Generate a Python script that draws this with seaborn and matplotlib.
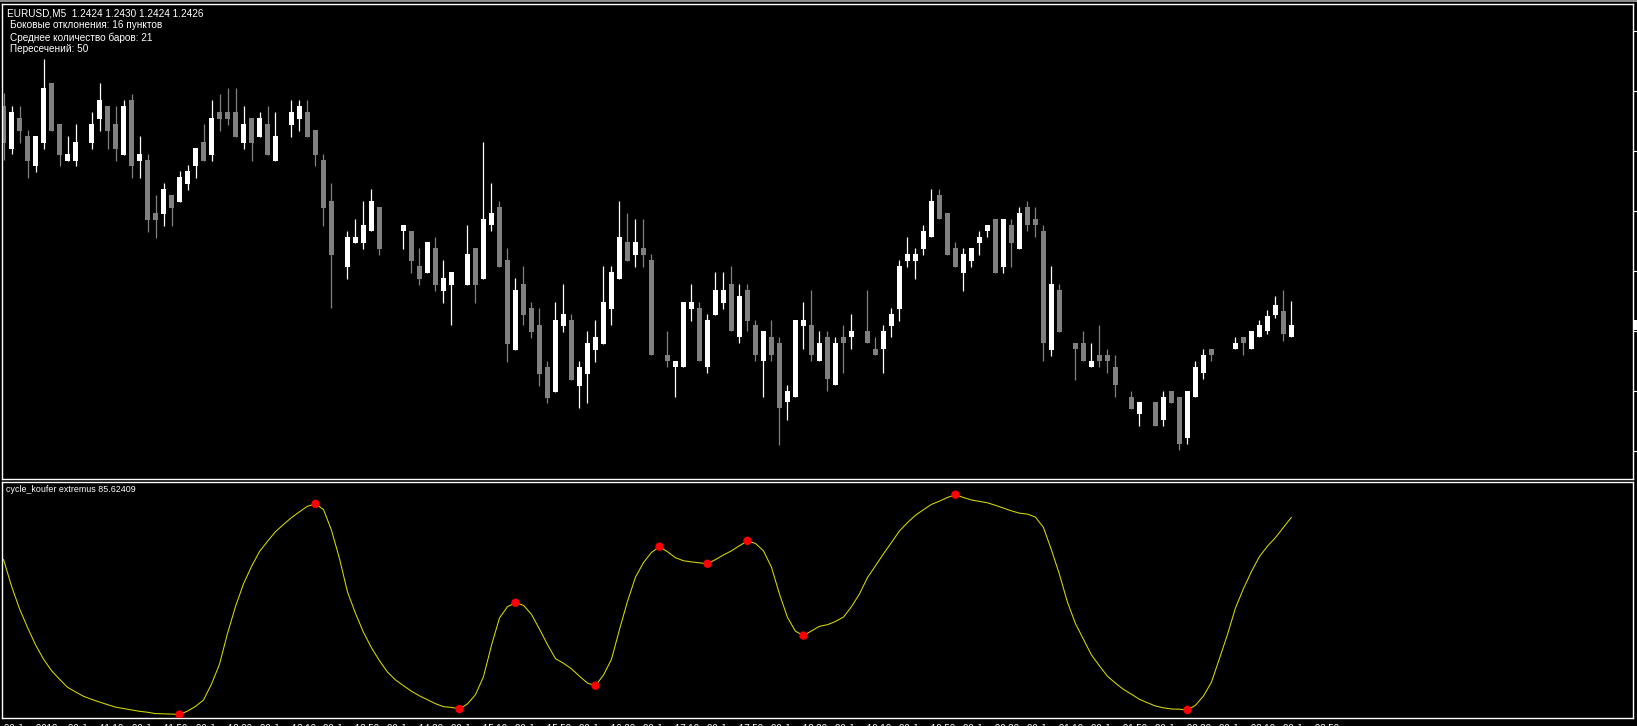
import matplotlib
matplotlib.use('Agg')
import matplotlib.pyplot as plt
import matplotlib.transforms as mtransforms
from matplotlib.patches import Rectangle
import numpy as np
import seaborn as sns

nan = np.nan

# EURUSD M5 bars (nan = doji bars that the terminal draws in black)
opens = [
    1.24625, 1.24554, 1.24605, 1.24575, 1.24525, 1.24564, 1.24663, 1.24595, 1.24534, 1.24534,
    nan, 1.24564, 1.24604, 1.24625, 1.24595, 1.24544, 1.24635, 1.24534, 1.24535, 1.24446,
    1.24445, 1.24477, 1.24465, 1.24495, 1.24525, 1.24565, 1.24544, 1.24615, 1.24615, 1.24615,
    1.24564, 1.24605, 1.24574, 1.24595, 1.24534, nan, 1.24594, 1.24604, 1.24615, 1.24585,
    1.24535, 1.24467, nan, 1.24357, 1.24397, 1.24397, 1.24416, 1.24456, nan, nan,
    1.24416, 1.24417, 1.24358, 1.24347, 1.24388, 1.24317, 1.24327, nan, 1.24327, 1.24388,
    1.24337, 1.24426, 1.24456, 1.24368, 1.24218, 1.24328, 1.24288, 1.24259, 1.24189, 1.24148,
    1.24258, 1.24268, 1.24158, 1.24178, 1.24218, 1.24228, 1.24287, 1.24337, 1.24398, 1.24377,
    1.24388, 1.24368, nan, 1.24210, 1.24189, 1.24189, 1.24287, 1.24288, 1.24189, 1.24277,
    1.24297, 1.24328, 1.24239, 1.24318, 1.24260, 1.24199, 1.24240, 1.24230, 1.24131, 1.24139,
    1.24258, 1.24260, 1.24199, 1.24240, 1.24159, 1.24240, 1.24239, nan, 1.24250, 1.24220,
    1.24219, 1.24258, 1.24287, 1.24367, 1.24367, 1.24387, 1.24406, 1.24477, 1.24447, 1.24388,
    1.24347, 1.24367, 1.24397, 1.24416, 1.24437, 1.24357, 1.24427, 1.24387, 1.24457, 1.24437,
    1.24417, 1.24218, 1.24318, nan, 1.24230, 1.24230, 1.24189, 1.24210, 1.24210, 1.24190,
    nan, 1.24140, 1.24111, nan, 1.24132, 1.24101, 1.24150, 1.24140, 1.24071, 1.24139,
    1.24179, 1.24220, nan, nan, 1.24219, 1.24240, 1.24219, 1.24239, 1.24250, 1.24277,
    1.24283, 1.24240,
]
highs = [
    1.24646, 1.24625, 1.24625, 1.24585, 1.24575, 1.24703, 1.24663, 1.24595, 1.24575, 1.24595,
    nan, 1.24615, 1.24663, 1.24625, 1.24625, 1.24635, 1.24645, 1.24575, 1.24545, 1.24477,
    1.24497, 1.24477, 1.24517, 1.24527, 1.24555, 1.24595, 1.24635, 1.24645, 1.24655, 1.24655,
    1.24625, 1.24605, 1.24615, 1.24625, 1.24615, nan, 1.24635, 1.24635, 1.24635, 1.24585,
    1.24545, 1.24496, nan, 1.24417, 1.24437, 1.24467, 1.24487, 1.24456, nan, nan,
    1.24427, 1.24417, 1.24388, 1.24398, 1.24407, 1.24368, 1.24348, nan, 1.24427, 1.24388,
    1.24565, 1.24497, 1.24467, 1.24388, 1.24338, 1.24358, 1.24298, 1.24288, 1.24199, 1.24298,
    1.24328, 1.24278, 1.24199, 1.24249, 1.24268, 1.24358, 1.24358, 1.24467, 1.24447, 1.24437,
    1.24437, 1.24378, nan, 1.24250, 1.24200, 1.24298, 1.24328, 1.24298, 1.24278, 1.24348,
    1.24348, 1.24358, 1.24328, 1.24328, 1.24268, 1.24250, 1.24268, 1.24240, 1.24160, 1.24268,
    1.24298, 1.24318, 1.24250, 1.24250, 1.24240, 1.24260, 1.24278, nan, 1.24318, 1.24240,
    1.24260, 1.24288, 1.24368, 1.24407, 1.24388, 1.24427, 1.24487, 1.24487, 1.24447, 1.24398,
    1.24388, 1.24388, 1.24417, 1.24427, 1.24437, 1.24437, 1.24437, 1.24457, 1.24467, 1.24457,
    1.24427, 1.24358, 1.24328, nan, 1.24230, 1.24250, 1.24230, 1.24260, 1.24220, 1.24210,
    nan, 1.24150, 1.24132, nan, 1.24132, 1.24150, 1.24150, 1.24140, 1.24150, 1.24200,
    1.24220, 1.24220, nan, nan, 1.24240, 1.24240, 1.24250, 1.24269, 1.24285, 1.24308,
    1.24318, 1.24300,
]
lows = [
    1.24535, 1.24545, 1.24564, 1.24505, 1.24515, 1.24554, 1.24584, 1.24525, 1.24534, 1.24525,
    nan, 1.24554, 1.24584, 1.24554, 1.24534, 1.24544, 1.24505, 1.24505, 1.24415, 1.24405,
    1.24425, 1.24425, 1.24465, 1.24485, 1.24505, 1.24534, 1.24534, 1.24584, 1.24594, 1.24574,
    1.24554, 1.24534, 1.24574, 1.24544, 1.24534, nan, 1.24574, 1.24584, 1.24574, 1.24525,
    1.24425, 1.24288, nan, 1.24337, 1.24397, 1.24387, 1.24416, 1.24377, nan, nan,
    1.24387, 1.24347, 1.24327, 1.24347, 1.24317, 1.24297, 1.24259, nan, 1.24327, 1.24297,
    1.24337, 1.24416, 1.24357, 1.24198, 1.24218, 1.24259, 1.24238, 1.24158, 1.24129, 1.24148,
    1.24248, 1.24168, 1.24121, 1.24129, 1.24198, 1.24228, 1.24259, 1.24337, 1.24367, 1.24357,
    1.24357, 1.24209, nan, 1.24189, 1.24139, 1.24189, 1.24267, 1.24199, 1.24179, 1.24277,
    1.24287, 1.24249, 1.24229, 1.24249, 1.24199, 1.24139, 1.24199, 1.24060, 1.24101, 1.24139,
    1.24219, 1.24199, 1.24199, 1.24149, 1.24159, 1.24179, 1.24219, nan, 1.24229, 1.24209,
    1.24179, 1.24239, 1.24267, 1.24357, 1.24337, 1.24377, 1.24406, 1.24436, 1.24377, 1.24357,
    1.24317, 1.24357, 1.24377, 1.24406, 1.24347, 1.24347, 1.24357, 1.24387, 1.24416, 1.24406,
    1.24199, 1.24208, 1.24248, nan, 1.24168, 1.24199, 1.24189, 1.24189, 1.24179, 1.24139,
    nan, 1.24120, 1.24091, nan, 1.24091, 1.24091, 1.24130, 1.24051, 1.24061, 1.24139,
    1.24169, 1.24199, nan, nan, 1.24219, 1.24209, 1.24219, 1.24239, 1.24245, 1.24272,
    1.24233, 1.24240,
]
closes = [
    1.24564, 1.24615, 1.24584, 1.24534, 1.24575, 1.24655, 1.24584, 1.24544, 1.24545, 1.24565,
    nan, 1.24595, 1.24635, 1.24584, 1.24554, 1.24625, 1.24525, 1.24545, 1.24435, 1.24435,
    1.24487, 1.24455, 1.24507, 1.24517, 1.24555, 1.24534, 1.24605, 1.24604, 1.24604, 1.24574,
    1.24595, 1.24564, 1.24605, 1.24544, 1.24575, nan, 1.24615, 1.24625, 1.24574, 1.24544,
    1.24455, 1.24377, nan, 1.24407, 1.24407, 1.24427, 1.24467, 1.24387, nan, nan,
    1.24427, 1.24367, 1.24337, 1.24398, 1.24327, 1.24338, 1.24348, nan, 1.24378, 1.24327,
    1.24437, 1.24447, 1.24357, 1.24228, 1.24318, 1.24277, 1.24248, 1.24178, 1.24138, 1.24268,
    1.24278, 1.24168, 1.24189, 1.24229, 1.24239, 1.24298, 1.24348, 1.24407, 1.24367, 1.24398,
    1.24377, 1.24209, nan, 1.24199, 1.24200, 1.24298, 1.24298, 1.24199, 1.24268, 1.24318,
    1.24318, 1.24249, 1.24308, 1.24267, 1.24209, 1.24250, 1.24209, 1.24121, 1.24150, 1.24268,
    1.24268, 1.24209, 1.24230, 1.24169, 1.24230, 1.24229, 1.24250, nan, 1.24229, 1.24209,
    1.24250, 1.24278, 1.24358, 1.24378, 1.24378, 1.24417, 1.24467, 1.24436, 1.24377, 1.24357,
    1.24378, 1.24388, 1.24407, 1.24427, 1.24347, 1.24437, 1.24397, 1.24447, 1.24426, 1.24426,
    1.24229, 1.24328, 1.24248, nan, 1.24219, 1.24199, 1.24200, 1.24199, 1.24199, 1.24159,
    nan, 1.24120, 1.24132, nan, 1.24091, 1.24140, 1.24130, 1.24061, 1.24150, 1.24190,
    1.24210, 1.24209, nan, nan, 1.24230, 1.24229, 1.24250, 1.24260, 1.24275, 1.24293,
    1.24245, 1.24260,
]

# cycle_koufer extremus indicator, one value per bar
cycle = [
    67.4, 55.8, 46.0, 37.9, 30.4, 24.2, 19.2, 15.5, 12.0, 10.0,
    8.1, 6.8, 5.6, 4.5, 3.4, 2.8, 2.2, 1.6, 1.2, 0.6,
    0.5, 0.4, 0.2, 1.7, 3.7, 6.5, 13.4, 22.0, 35.3, 47.0,
    56.8, 64.3, 70.8, 75.2, 79.4, 82.5, 85.5, 88.0, 90.4, 91.4,
    89.0, 80.0, 67.7, 53.3, 44.0, 35.8, 29.1, 23.5, 18.6, 15.2,
    12.7, 10.3, 8.3, 6.6, 4.9, 3.6, 3.3, 2.6, 4.8, 8.8,
    16.6, 30.2, 42.0, 46.9, 48.6, 47.5, 43.6, 37.2, 30.5, 24.4,
    22.4, 20.0, 16.8, 13.8, 12.7, 17.3, 24.1, 37.0, 49.2, 59.7,
    66.0, 70.4, 72.9, 70.7, 68.1, 66.8, 66.3, 65.9, 65.5, 67.3,
    69.3, 71.1, 73.3, 75.4, 74.3, 71.1, 64.0, 52.4, 42.3, 36.3,
    34.4, 36.4, 38.4, 39.1, 40.5, 42.4, 46.9, 52.4, 59.5, 64.6,
    69.8, 74.7, 79.7, 83.3, 86.5, 88.9, 91.2, 92.6, 94.2, 95.4,
    94.2, 93.1, 92.5, 91.9, 90.8, 89.6, 88.4, 87.4, 87.0, 85.7,
    81.2, 71.5, 60.9, 48.9, 39.6, 32.8, 26.0, 21.3, 16.8, 13.8,
    11.1, 9.0, 6.8, 5.3, 3.9, 3.1, 2.6, 2.5, 2.2, 4.2,
    8.2, 14.2, 24.4, 34.8, 46.3, 54.7, 62.1, 68.6, 73.1, 76.8,
    81.2, 85.62409,
]
# bars where the indicator marks an extremum
extremes = [22, 39, 57, 64, 74, 82, 88, 93, 100, 119, 148]

price_ticks = [1.2405, 1.2415, 1.2425, 1.2435, 1.2445, 1.2455, 1.2465, 1.2475]
time_labels = ['20 Jun 2018', '20 Jun 11:10', '20 Jun 11:50', '20 Jun 12:30', '20 Jun 13:10',
               '20 Jun 13:50', '20 Jun 14:30', '20 Jun 15:10', '20 Jun 15:50', '20 Jun 16:30',
               '20 Jun 17:10', '20 Jun 17:50', '20 Jun 18:30', '20 Jun 19:10', '20 Jun 19:50',
               '20 Jun 20:30', '20 Jun 21:10', '20 Jun 21:50', '20 Jun 22:30', '20 Jun 23:10',
               '20 Jun 23:50']

header = 'EURUSD,M5  1.2424 1.2430 1.2424 1.2426'
info_lines = ['Боковые отклонения: 16 пунктов',
              'Среднее количество баров: 21',
              'Пересечений: 50']
ind_label = 'cycle_koufer extremus 85.62409'

sns.set_theme(style='dark')
plt.rcParams['font.family'] = ['Liberation Sans', 'DejaVu Sans']

W, H = 1637, 726
fig = plt.figure(figsize=(W / 100, H / 100), dpi=100, facecolor='black')

# terminal window strip at the very top
fig.patches.append(Rectangle((0, 1 - 2 / H), 1, 2 / H, transform=fig.transFigure,
                             facecolor='#8c8c8c', edgecolor='none'))

ax = fig.add_axes([2 / W, 1 - 479 / H, 1631 / W, 475.5 / H])
ax2 = fig.add_axes([2 / W, 1 - 718 / H, 1631 / W, 236 / H])

o = np.array(opens)
h = np.array(highs)
l = np.array(lows)
c = np.array(closes)
x = np.arange(len(o))
up = c >= o
cols = np.where(up, 'white', '#808080')

# wicks and bodies
ax.vlines(x, l, h, colors=cols, linewidth=0.9)
ax.bar(x, np.abs(c - o), bottom=np.minimum(o, c), width=0.62, color=cols, linewidth=0)

for a in (ax, ax2):
    a.set_facecolor('black')
    for s in a.spines.values():
        s.set_color('white')
        s.set_linewidth(1.0)
    a.set_xlim(-0.19, 203.7)
    a.grid(False)

ax.set_ylim(1.24003, 1.24796)
ax.set_xticks([])
ax.yaxis.tick_right()
# the price labels sit past the right edge of the window, only the marks show
ax.set_yticks(price_ticks, [])
ax.tick_params(axis='y', colors='white', length=3, width=0.8)

# current bid box on the price scale (mostly outside the window)
trans = mtransforms.blended_transform_factory(ax.transAxes, ax.transData)
ax.add_patch(Rectangle((1.0008, closes[-1] - 0.00009), 0.01, 0.00018, transform=trans,
                       facecolor='white', edgecolor='none', clip_on=False))

# indicator window
sns.lineplot(x=x, y=cycle, ax=ax2, color='#dada00', linewidth=0.75)
sns.scatterplot(x=extremes, y=[cycle[i] for i in extremes], ax=ax2, color='#ff0000',
                s=36, edgecolor='none', zorder=3)
ax2.set_ylim(-1.3, 100.9)
ax2.set_yticks([])
ax2.set_ylabel('')
ax2.set_xticks(np.arange(0, len(o), 8), time_labels)
ax2.tick_params(axis='x', colors='white', length=3, width=0.8, labelsize=7, pad=1.5)
for t in ax2.get_xticklabels():
    t.set_ha('left')

# text overlays
fig.text(7 / W, 1 - 13 / H, header, color='white', fontsize=7.2, va='center', ha='left')
for k, line in enumerate(info_lines):
    fig.text(10 / W, 1 - (25.5 + 12 * k) / H, line, color='white', fontsize=7.2,
             va='center', ha='left')
fig.text(6 / W, 1 - 489 / H, ind_label, color='white', fontsize=6.4, va='center', ha='left')

fig.savefig('out.png', dpi=100, facecolor='black')
